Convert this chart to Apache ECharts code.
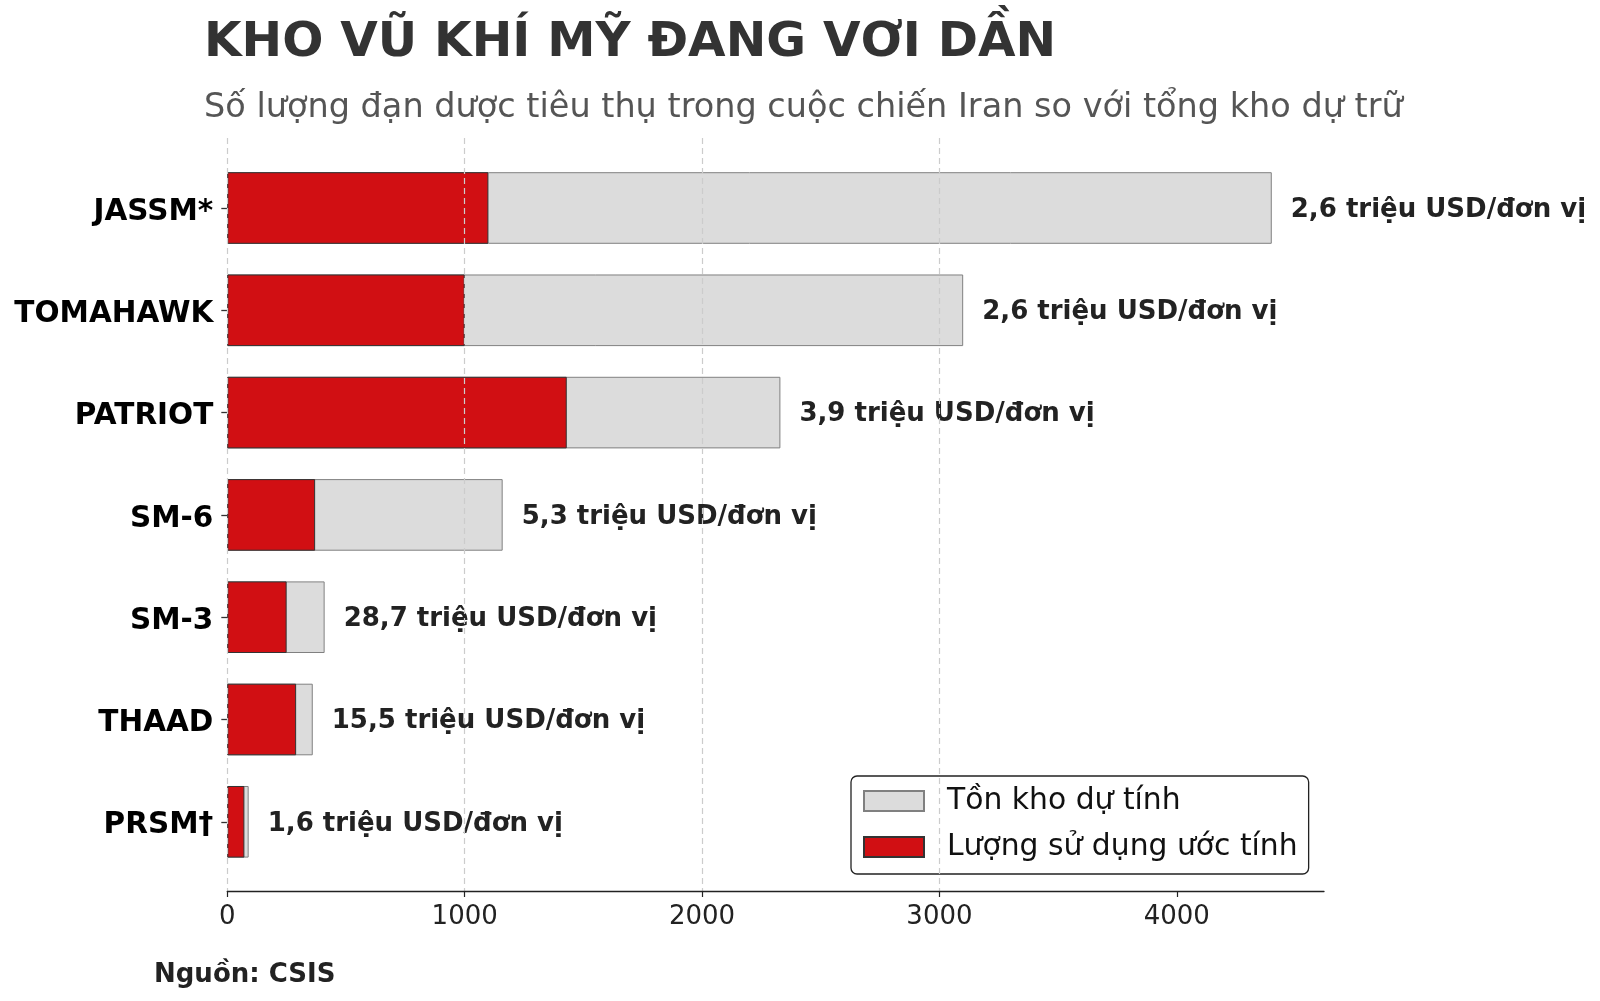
<!DOCTYPE html>
<html>
<head>
<meta charset="utf-8">
<script src="https://cdn.jsdelivr.net/npm/echarts@6/dist/echarts.min.js"></script>
<style>
html,body{margin:0;padding:0;background:#fff;}
#chart{width:1600px;height:1001px;}
</style>
</head>
<body>
<div id="chart"></div>
<script>
const categories = ['JASSM*', 'TOMAHAWK', 'PATRIOT', 'SM-6', 'SM-3', 'THAAD', 'PRSM†'];
const stockpile = [4400, 3100, 2330, 1160, 410, 360, 90];
const used = [1100, 1000, 1430, 370, 250, 290, 72];
const costLabels = ['2,6 triệu USD/đơn vị', '2,6 triệu USD/đơn vị', '3,9 triệu USD/đơn vị', '5,3 triệu USD/đơn vị', '28,7 triệu USD/đơn vị', '15,5 triệu USD/đơn vị', '1,6 triệu USD/đơn vị'];
const xTicks = [0, 1000, 2000, 3000, 4000];
const legendNames = ['Tồn kho dự tính', 'Lượng sử dụng ước tính'];
const titleText = 'KHO VŨ KHÍ MỸ ĐANG VƠI DẦN';
const subtitleText = 'Số lượng đạn dược tiêu thụ trong cuộc chiến Iran so với tổng kho dự trữ';
const sourceText = 'Nguồn: CSIS';

const FONT = 'DejaVu Sans';
const chart = echarts.init(document.getElementById('chart'), null, {renderer: 'canvas'});
const XMAX = 4620;

chart.setOption({
  backgroundColor: '#ffffff',
  animation: false,
  textStyle: {fontFamily: FONT},
  graphic: [
    {type: 'text', left: 204, top: 19, style: {text: titleText, font: 'bold 48.5px "DejaVu Sans"', fill: '#333333'}},
    {type: 'text', left: 204, top: 91, style: {text: subtitleText, font: '33.5px "DejaVu Sans"', fill: '#555555'}},
    {type: 'text', left: 154, top: 962, style: {text: sourceText, font: 'bold 26px "DejaVu Sans"', fill: '#222222'}}
  ],
  legend: {
    data: legendNames,
    orient: 'vertical',
    left: 851,
    top: 776,
    padding: [10, 11, 12, 12],
    itemWidth: 60,
    itemHeight: 20,
    itemGap: 16,
    icon: 'rect',
    borderColor: '#222',
    borderWidth: 1.3,
    borderRadius: 6,
    backgroundColor: '#fff',
    textStyle: {fontFamily: FONT, fontSize: 29.8, color: '#111', lineHeight: 30, padding: [0, 0, 0, 18]}
  },
  grid: [
    {left: 227.3, right: 276, top: 156.85, bottom: 128.05, containLabel: false},
    {left: 227.3, right: 276, top: 138, bottom: 110, containLabel: false}
  ],
  xAxis: [
    {gridIndex: 0, type: 'value', min: 0, max: XMAX, show: false, splitLine: {show: false}},
    {
      gridIndex: 1, type: 'value', min: 0, max: XMAX, z: 10,
      axisLine: {show: true, lineStyle: {color: '#222', width: 1.3}},
      axisTick: {show: true, length: 6, lineStyle: {color: '#222', width: 1.2}, customValues: xTicks},
      axisLabel: {fontFamily: FONT, fontSize: 26, color: '#222', margin: 13, customValues: xTicks, formatter: v => String(v)},
      splitLine: {show: true, showMaxLine: false, lineStyle: {color: '#cccccc', type: [6, 4], width: 1.2}}
    }
  ],
  yAxis: [
    {
      gridIndex: 0, type: 'category', data: categories, inverse: true,
      axisLine: {show: false},
      axisTick: {show: true, alignWithLabel: true, length: 6, lineStyle: {color: '#333', width: 1.3}},
      axisLabel: {
        margin: 14,
        formatter: v => '{c|' + v + '}',
        rich: {c: {fontFamily: FONT, fontSize: 29.5, fontWeight: 'bold', color: '#000', padding: [8, 0, 0, 0]}}
      }
    },
    {gridIndex: 1, type: 'value', min: 0, max: 1, show: false}
  ],
  series: [
    {
      name: legendNames[0], type: 'bar', xAxisIndex: 0, yAxisIndex: 0,
      data: stockpile, barWidth: '70%', barGap: '-100%',
      itemStyle: {color: '#dcdcdc', borderColor: '#808080', borderWidth: 1},
      label: {
        show: true, position: 'right', distance: 19,
        formatter: p => '{v|' + costLabels[p.dataIndex] + '}',
        rich: {v: {fontFamily: FONT, fontSize: 26, fontWeight: 'bold', color: '#222', padding: [4, 0, 0, 0]}}
      }
    },
    {
      name: legendNames[1], type: 'bar', xAxisIndex: 0, yAxisIndex: 0,
      data: used, barWidth: '70%', barGap: '-100%',
      itemStyle: {color: '#d10f13', borderColor: '#333', borderWidth: 1}
    }
  ]
});
</script>
</body>
</html>
